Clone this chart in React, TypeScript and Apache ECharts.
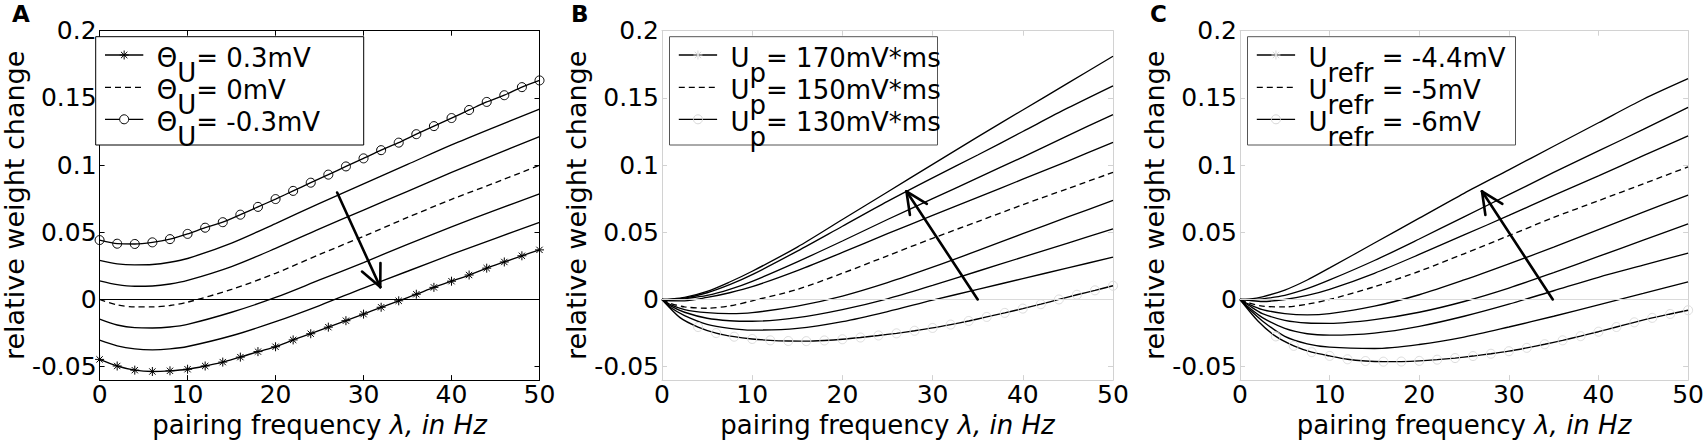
import React, { useEffect, useRef } from 'react';
import * as echarts from 'echarts';

// ---------- data ----------
const FREQ_2HZ = [0, 2, 4, 6, 8, 10, 12, 14, 16, 18, 20, 22, 24, 26, 28, 30, 32, 34, 36, 38, 40, 42, 44, 46, 48, 50];
const FREQ_A = [0, 2, 4, 6, 8, 10, 15, 20, 25, 30, 35, 40, 45, 50];
const FREQ_BC = [0, 1, 2.5, 5, 7.5, 10, 15, 20, 25, 30, 35, 40, 45, 50];
const Y_TICKS = [-0.05, 0, 0.05, 0.1, 0.15, 0.2];

// Panel A (Theta_U)
const A_THETA_NEG03 = [0.0442, 0.0415, 0.0413, 0.0425, 0.0449, 0.0488, 0.0534, 0.0575, 0.0631, 0.0689, 0.0747, 0.0808, 0.0869, 0.0929, 0.099, 0.105, 0.1111, 0.1167, 0.123, 0.129, 0.135, 0.141, 0.147, 0.152, 0.158, 0.163];
const A_CURVE2 = [0.0291, 0.0265, 0.0257, 0.026, 0.0277, 0.0305, 0.042, 0.0565, 0.0715, 0.086, 0.1005, 0.115, 0.1285, 0.1417];
const A_CURVE3 = [0.0138, 0.011, 0.0098, 0.01, 0.0115, 0.0142, 0.0245, 0.038, 0.0525, 0.0665, 0.0805, 0.0945, 0.108, 0.1211];
const A_THETA_0 = [0, -0.004, -0.0055, -0.0055, -0.0045, -0.002, 0.0075, 0.0195, 0.0335, 0.047, 0.061, 0.0745, 0.087, 0.0999];
const A_CURVE5 = [-0.0146, -0.019, -0.021, -0.0212, -0.0205, -0.0185, -0.0095, 0.0015, 0.0145, 0.0275, 0.041, 0.054, 0.0665, 0.0786];
const A_CURVE6 = [-0.0303, -0.0345, -0.0368, -0.0375, -0.0368, -0.035, -0.027, -0.0165, -0.0045, 0.0085, 0.021, 0.0335, 0.0455, 0.0573];
const A_THETA_03 = [-0.0446, -0.0495, -0.0526, -0.0536, -0.0531, -0.0519, -0.0495, -0.0466, -0.0429, -0.0388, -0.0352, -0.0301, -0.0255, -0.0206, -0.0158, -0.0109, -0.0058, -0.001, 0.0039, 0.009, 0.0136, 0.0182, 0.0233, 0.0279, 0.0325, 0.0369];

// Panel B (U_p)
const B_UP_170 = [0, 0.0003, 0.0015, 0.006, 0.013, 0.021, 0.039, 0.0595, 0.08, 0.1005, 0.121, 0.141, 0.161, 0.181];
const B_CURVE2 = [0, 0.0002, 0.001, 0.005, 0.011, 0.0185, 0.036, 0.0545, 0.073, 0.0905, 0.1075, 0.125, 0.1425, 0.159];
const B_CURVE3 = [0, -0.0005, 0.0005, 0.003, 0.0075, 0.0135, 0.028, 0.0435, 0.0595, 0.075, 0.0905, 0.106, 0.122, 0.1376];
const B_CURVE4 = [0, -0.001, -0.001, 0.0015, 0.005, 0.0095, 0.0215, 0.035, 0.049, 0.0625, 0.076, 0.0895, 0.103, 0.1169];
const B_UP_150 = [0, -0.003, -0.0055, -0.0065, -0.0048, -0.001, 0.0075, 0.0195, 0.0325, 0.0455, 0.058, 0.0705, 0.0825, 0.0946];
const B_CURVE6 = [0, -0.004, -0.0075, -0.0098, -0.0105, -0.0098, -0.005, 0.0025, 0.0125, 0.024, 0.0363, 0.049, 0.0614, 0.0737];
const B_CURVE7 = [0, -0.005, -0.0095, -0.014, -0.0158, -0.0162, -0.0135, -0.0075, 0.0005, 0.0105, 0.021, 0.0315, 0.042, 0.0526];
const B_CURVE8 = [0, -0.0062, -0.012, -0.0185, -0.0215, -0.0228, -0.0215, -0.0165, -0.009, -0.0005, 0.0075, 0.0155, 0.0235, 0.0315];
const B_UP_130 = [0, -0.0135, -0.0205, -0.025, -0.0277, -0.0294, -0.0304, -0.0309, -0.031, -0.0305, -0.0296, -0.0283, -0.0268, -0.0252, -0.0233, -0.0212, -0.0187, -0.016, -0.013, -0.01, -0.0068, -0.0035, 0.0, 0.0035, 0.0068, 0.0102];

// Panel C (U_refr)
const C_UREFR_44 = [0, 0.0003, 0.002, 0.007, 0.0145, 0.0235, 0.042, 0.0605, 0.079, 0.0965, 0.114, 0.1315, 0.149, 0.1643];
const C_CURVE2 = [0, 0, 0.0005, 0.003, 0.008, 0.0145, 0.029, 0.045, 0.0615, 0.078, 0.0945, 0.1105, 0.1265, 0.143];
const C_CURVE3 = [0, -0.0007, -0.0015, 0, 0.003, 0.0075, 0.0195, 0.0335, 0.048, 0.0625, 0.0775, 0.092, 0.107, 0.1218];
const C_UREFR_5 = [0, -0.0025, -0.005, -0.0055, -0.0035, 0, 0.0095, 0.021, 0.034, 0.0475, 0.061, 0.0735, 0.086, 0.0987];
const C_CURVE5 = [0, -0.0035, -0.0075, -0.0105, -0.0115, -0.0105, -0.005, 0.0035, 0.0145, 0.0265, 0.039, 0.052, 0.065, 0.0777];
const C_CURVE6 = [0, -0.0045, -0.0105, -0.0155, -0.0175, -0.0178, -0.015, -0.0095, -0.0015, 0.0085, 0.02, 0.032, 0.0442, 0.0563];
const C_CURVE7 = [0, -0.006, -0.0135, -0.0215, -0.0255, -0.0265, -0.025, -0.02, -0.0125, -0.0035, 0.0065, 0.0165, 0.0255, 0.0345];
const C_CURVE8 = [0, -0.007, -0.016, -0.0275, -0.033, -0.0355, -0.0365, -0.0335, -0.028, -0.0205, -0.0125, -0.004, 0.0045, 0.0131];
const C_UREFR_6 = [0, -0.016, -0.0275, -0.0345, -0.0392, -0.042, -0.0445, -0.0458, -0.0463, -0.0462, -0.0457, -0.0448, -0.0436, -0.0421, -0.0404, -0.0385, -0.036, -0.0333, -0.0304, -0.0273, -0.024, -0.0205, -0.017, -0.0137, -0.0108, -0.008];

// arrows [x1, y1, x2, y2] (tail -> head)
const ARROW_A = [27, 0.0796, 31.9, 0.0092];
const ARROW_B = [35, 0, 27.1, 0.0805];
const ARROW_C = [34.9, 0, 27.0, 0.0805];

// legend texts
const LEGEND_A = [
  { main: 'Θ', sub: 'U', rest: '= 0.3mV' },
  { main: 'Θ', sub: 'U', rest: '= 0mV' },
  { main: 'Θ', sub: 'U', rest: '= -0.3mV' },
];
const LEGEND_B = [
  { main: 'U', sub: 'p', rest: '= 170mV*ms' },
  { main: 'U', sub: 'p', rest: '= 150mV*ms' },
  { main: 'U', sub: 'p', rest: '= 130mV*ms' },
];
const LEGEND_C = [
  { main: 'U', sub: 'refr', rest: ' = -4.4mV' },
  { main: 'U', sub: 'refr', rest: ' = -5mV' },
  { main: 'U', sub: 'refr', rest: ' = -6mV' },
];

// ---------- layout / style ----------
const FONT = "'DejaVu Sans', sans-serif";
const TOP = 30.7;
const BOTTOM = 386.7;
const W = 1707;
const H = 443;
const PANELS = [
  { left: 87.3, right: 539.5, frame: '#000', tick: '#000', zero: '#000', legendBorder: '#000', label: 'A', labelX: 12, legendX: 95.7, legend: LEGEND_A },
  { left: 662, right: 1113, frame: '#d2d2d2', tick: '#d2d2d2', zero: '#dadada', legendBorder: '#555', label: 'B', labelX: 571, legendX: 669.5, legend: LEGEND_B },
  { left: 1240, right: 1691, frame: '#d2d2d2', tick: '#d2d2d2', zero: '#dadada', legendBorder: '#555', label: 'C', labelX: 1150, legendX: 1247.5, legend: LEGEND_C },
];
const STAR_PATH = 'path://M5,0L5,10M0,5L10,5M1.5,1.5L8.5,8.5M1.5,8.5L8.5,1.5';
const LINE_W = 1.35;
const TICK_FS = 25;
const XNAME_FS = 26;
const YNAME_FS = 27;

const zip = (xs: number[], ys: number[]) => xs.map((x, i) => [x, ys[i]]);

function lineSeries(idx: number, data: any[], opts: any = {}) {
  return {
    type: 'line',
    xAxisIndex: idx * 2,
    yAxisIndex: idx * 2,
    data,
    showSymbol: false,
    symbol: 'none',
    smooth: 0.3,
    lineStyle: { color: '#000', width: LINE_W, type: opts.dashed ? [6, 4] : 'solid' },
    itemStyle: { color: '#000' },
    z: 3,
    ...opts.extra,
  };
}

function zeroLine(color: string) {
  return {
    silent: true,
    symbol: ['none', 'none'],
    label: { show: false },
    lineStyle: { color, width: 1, type: 'solid' },
    data: [{ yAxis: 0 }],
    animation: false,
  };
}

function arrowSeries(idx: number, arrow: number[]) {
  return {
    type: 'custom',
    xAxisIndex: idx * 2,
    yAxisIndex: idx * 2,
    z: 10,
    data: [arrow],
    encode: { x: [0, 2], y: [1, 3] },
    renderItem: (params: any, api: any) => {
      const p1 = api.coord([api.value(0), api.value(1)]);
      const p2 = api.coord([api.value(2), api.value(3)]);
      const dx = p1[0] - p2[0];
      const dy = p1[1] - p2[1];
      const len = Math.sqrt(dx * dx + dy * dy);
      const ux = dx / len;
      const uy = dy / len;
      const L = 24;
      const a = (25 * Math.PI) / 180;
      const rot = (s: number) => [
        p2[0] + L * (ux * Math.cos(s * a) - uy * Math.sin(s * a)),
        p2[1] + L * (ux * Math.sin(s * a) + uy * Math.cos(s * a)),
      ];
      const w1 = rot(1);
      const w2 = rot(-1);
      const st = { stroke: '#000', lineWidth: 2.6, lineCap: 'round' };
      return {
        type: 'group',
        children: [
          { type: 'line', shape: { x1: p1[0], y1: p1[1], x2: p2[0], y2: p2[1] }, style: st },
          { type: 'line', shape: { x1: p2[0], y1: p2[1], x2: w1[0], y2: w1[1] }, style: st },
          { type: 'line', shape: { x1: p2[0], y1: p2[1], x2: w2[0], y2: w2[1] }, style: st },
        ],
      };
    },
  };
}

export default function App() {
  const ref = useRef<HTMLDivElement>(null);

  useEffect(() => {
    if (!ref.current) return;
    document.body.style.margin = '0';
    const chart = echarts.init(ref.current, undefined, { renderer: 'svg' });

    const canvas = document.createElement('canvas');
    const ctx = canvas.getContext('2d') as CanvasRenderingContext2D;
    const measure = (s: string, size: number) => {
      ctx.font = `${size}px 'DejaVu Sans'`;
      return ctx.measureText(s).width;
    };

    const grid: any[] = [];
    const xAxis: any[] = [];
    const yAxis: any[] = [];
    PANELS.forEach((p, i) => {
      grid.push({ left: p.left, width: p.right - p.left, top: TOP, height: BOTTOM - TOP, show: false });
      xAxis.push({
        gridIndex: i, type: 'value', min: 0, max: 50, interval: 10, position: 'bottom',
        axisLine: { show: true, onZero: false, lineStyle: { color: p.frame, width: 1 } },
        axisTick: { show: true, inside: true, length: 5, lineStyle: { color: p.tick } },
        axisLabel: { color: '#000', fontSize: TICK_FS, fontFamily: FONT, margin: 2 },
        splitLine: { show: false },
        name: 'pairing frequency {i|λ, in Hz}', nameLocation: 'middle', nameGap: 27,
        nameTextStyle: {
          color: '#000', fontSize: XNAME_FS, fontFamily: FONT,
          rich: { i: { fontStyle: 'italic', fontSize: XNAME_FS, fontFamily: FONT, color: '#000' } },
        },
      });
      xAxis.push({
        gridIndex: i, type: 'value', min: 0, max: 50, interval: 10, position: 'top',
        axisLine: { show: true, onZero: false, lineStyle: { color: p.frame, width: 1 } },
        axisTick: { show: true, inside: true, length: 5, lineStyle: { color: p.tick } },
        axisLabel: { show: false },
        splitLine: { show: false },
      });
      yAxis.push({
        gridIndex: i, type: 'value', min: -0.06, max: 0.2, position: 'left',
        axisLine: { show: true, onZero: false, lineStyle: { color: p.frame, width: 1 } },
        axisTick: { show: true, inside: true, length: 5, lineStyle: { color: p.tick }, customValues: Y_TICKS },
        axisLabel: { color: '#000', fontSize: TICK_FS, fontFamily: FONT, margin: 3, customValues: Y_TICKS, formatter: (v: number) => String(v) },
        splitLine: { show: false },
        name: 'relative weight change', nameLocation: 'middle', nameGap: 48,
        nameTextStyle: { color: '#000', fontSize: YNAME_FS, fontFamily: FONT },
      });
      yAxis.push({
        gridIndex: i, type: 'value', min: -0.06, max: 0.2, position: 'right',
        axisLine: { show: true, onZero: false, lineStyle: { color: p.frame, width: 1 } },
        axisTick: { show: true, inside: true, length: 5, lineStyle: { color: p.tick }, customValues: Y_TICKS },
        axisLabel: { show: false, customValues: Y_TICKS },
        splitLine: { show: false },
      });
    });

    const transparent = 'rgba(0,0,0,0)';
    const ghost = (xs: number[], ys: number[]) =>
      xs.map((x, k) => (x < 3 ? { value: [x, ys[k]], symbol: 'none' } : [x, ys[k]]));

    const series: any[] = [
      // Panel A
      lineSeries(0, zip(FREQ_A, A_THETA_0), { dashed: true, extra: { markLine: zeroLine(PANELS[0].zero) } }),
      lineSeries(0, zip(FREQ_A, A_CURVE2)),
      lineSeries(0, zip(FREQ_A, A_CURVE3)),
      lineSeries(0, zip(FREQ_A, A_CURVE5)),
      lineSeries(0, zip(FREQ_A, A_CURVE6)),
      lineSeries(0, zip(FREQ_2HZ, A_THETA_NEG03), {
        extra: {
          showSymbol: true, symbol: 'circle', symbolSize: 9, smooth: 0.2,
          itemStyle: { color: transparent, borderColor: '#000', borderWidth: 1 },
        },
      }),
      lineSeries(0, zip(FREQ_2HZ, A_THETA_03), {
        extra: {
          showSymbol: true, symbol: STAR_PATH, symbolSize: 9, smooth: 0.2,
          itemStyle: { color: transparent, borderColor: '#000', borderWidth: 1 },
        },
      }),
      arrowSeries(0, ARROW_A),
      // Panel B
      lineSeries(1, zip(FREQ_BC, B_UP_150), { dashed: true, extra: { markLine: zeroLine(PANELS[1].zero) } }),
      lineSeries(1, zip(FREQ_BC, B_UP_170)),
      lineSeries(1, zip(FREQ_BC, B_CURVE2)),
      lineSeries(1, zip(FREQ_BC, B_CURVE3)),
      lineSeries(1, zip(FREQ_BC, B_CURVE4)),
      lineSeries(1, zip(FREQ_BC, B_CURVE6)),
      lineSeries(1, zip(FREQ_BC, B_CURVE7)),
      lineSeries(1, zip(FREQ_BC, B_CURVE8)),
      lineSeries(1, ghost(FREQ_2HZ, B_UP_130), {
        extra: {
          showSymbol: true, symbol: 'circle', symbolSize: 9, smooth: 0.25,
          itemStyle: { color: transparent, borderColor: '#dcdcdc', borderWidth: 1 },
        },
      }),
      arrowSeries(1, ARROW_B),
      // Panel C
      lineSeries(2, zip(FREQ_BC, C_UREFR_5), { dashed: true, extra: { markLine: zeroLine(PANELS[2].zero) } }),
      lineSeries(2, zip(FREQ_BC, C_UREFR_44)),
      lineSeries(2, zip(FREQ_BC, C_CURVE2)),
      lineSeries(2, zip(FREQ_BC, C_CURVE3)),
      lineSeries(2, zip(FREQ_BC, C_CURVE5)),
      lineSeries(2, zip(FREQ_BC, C_CURVE6)),
      lineSeries(2, zip(FREQ_BC, C_CURVE7)),
      lineSeries(2, zip(FREQ_BC, C_CURVE8)),
      lineSeries(2, ghost(FREQ_2HZ, C_UREFR_6), {
        extra: {
          showSymbol: true, symbol: 'circle', symbolSize: 9, smooth: 0.25,
          itemStyle: { color: transparent, borderColor: '#dcdcdc', borderWidth: 1 },
        },
      }),
      arrowSeries(2, ARROW_C),
    ];

    // graphic: panel letters + legends
    const graphic: any[] = [];
    const FS = 26;
    PANELS.forEach((p, i) => {
      graphic.push({
        type: 'text', left: p.labelX, top: 2, z: 100,
        style: { text: p.label, fontSize: 23, fontWeight: 'bold', fontFamily: FONT, fill: '#000' },
      });
      const bx = p.legendX;
      const by = 36.7;
      graphic.push({
        type: 'rect', z: 100,
        shape: { x: bx, y: by, width: 268, height: 108.3 },
        style: { fill: '#fff', stroke: p.legendBorder, lineWidth: 1 },
      });
      const rows = [18.3, 50.6, 82.6];
      p.legend.forEach((e, r) => {
        const ry = by + rows[r];
        const x1 = bx + 9.3;
        const x2 = bx + 47.6;
        const cx = (x1 + x2) / 2;
        graphic.push({
          type: 'line', z: 101,
          shape: { x1, y1: ry, x2, y2: ry },
          style: { stroke: '#000', lineWidth: LINE_W, lineDash: r === 1 ? [6, 4] : null },
        });
        const mk = i === 0 ? '#000' : '#d8d8d8';
        if (r === 0) {
          const s = 4.5;
          const d = 3.2;
          [[0, -s, 0, s], [-s, 0, s, 0], [-d, -d, d, d], [-d, d, d, -d]].forEach((q) =>
            graphic.push({
              type: 'line', z: 102,
              shape: { x1: cx + q[0], y1: ry + q[1], x2: cx + q[2], y2: ry + q[3] },
              style: { stroke: mk, lineWidth: 1 },
            })
          );
        }
        if (r === 2) {
          graphic.push({
            type: 'circle', z: 102,
            shape: { cx, cy: ry, r: 4.5 },
            style: { fill: i === 0 ? '#fff' : 'rgba(0,0,0,0)', stroke: mk, lineWidth: 1 },
          });
        }
        const tx = bx + 61;
        const wMain = measure(e.main, FS);
        const wSub = measure(e.sub, FS);
        const ts = { fontSize: FS, fontFamily: FONT, fill: '#000', verticalAlign: 'middle', align: 'left' };
        graphic.push({ type: 'text', z: 102, x: tx, y: ry + 3, style: { ...ts, text: e.main } });
        graphic.push({ type: 'text', z: 102, x: tx + wMain, y: ry + 18, style: { ...ts, text: e.sub } });
        graphic.push({ type: 'text', z: 102, x: tx + wMain + wSub, y: ry + 3, style: { ...ts, text: e.rest } });
      });
    });

    chart.setOption({
      animation: false,
      backgroundColor: '#fff',
      textStyle: { fontFamily: FONT },
      grid,
      xAxis,
      yAxis,
      series,
      graphic,
    });

    return () => {
      chart.dispose();
    };
  }, []);

  return <div ref={ref} style={{ position: 'fixed', left: 0, top: 0, width: W, height: H }} />;
}
